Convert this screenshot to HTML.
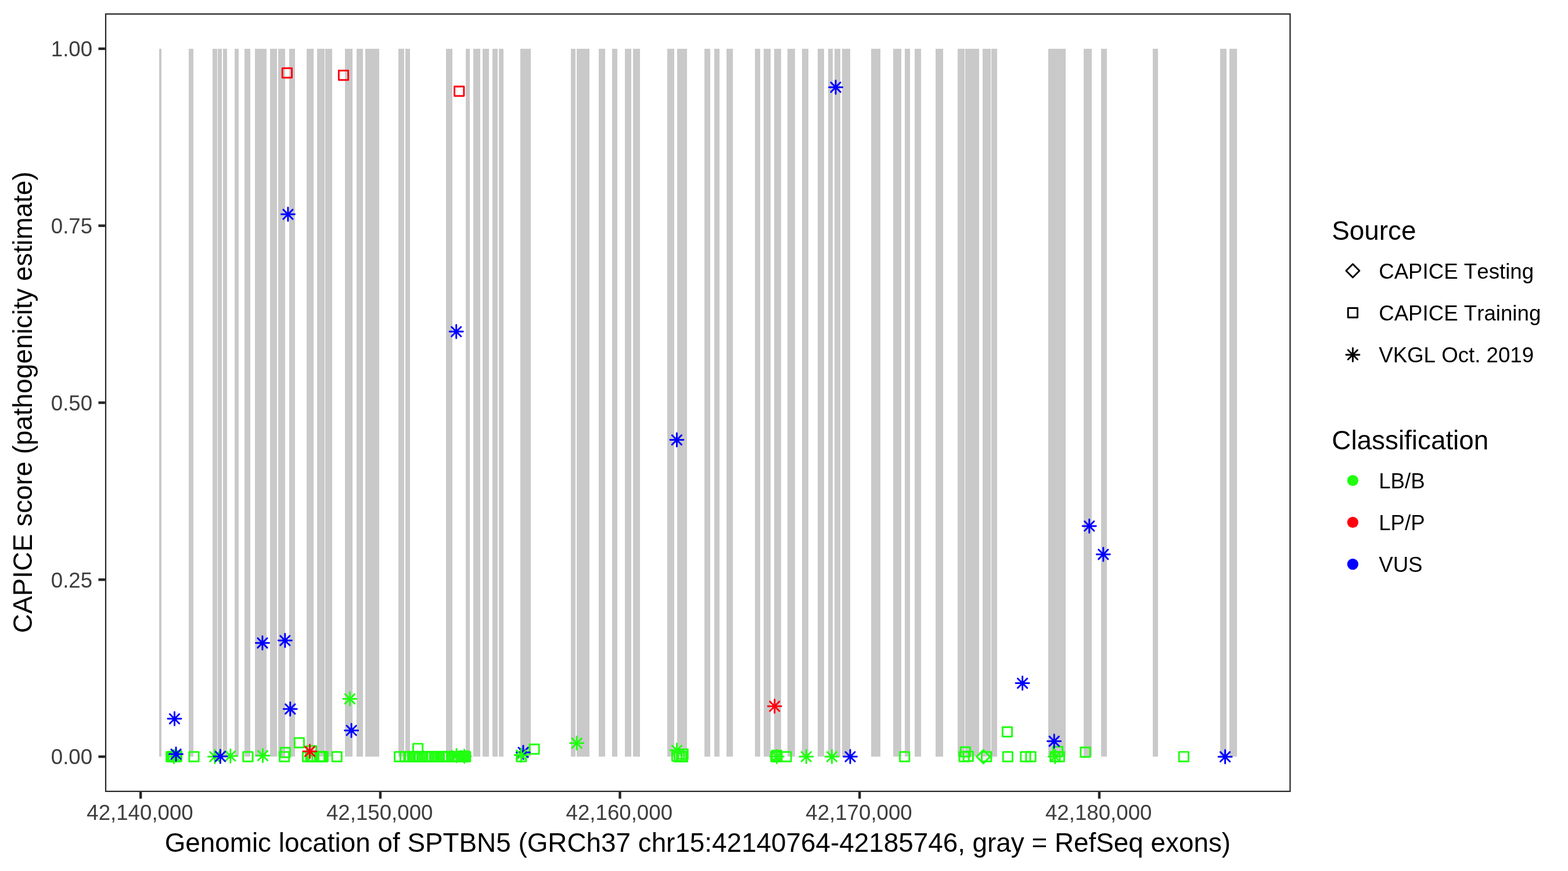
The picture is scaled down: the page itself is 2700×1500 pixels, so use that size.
<!DOCTYPE html>
<html lang="en">
<head>
<meta charset="utf-8">
<title>CAPICE score - SPTBN5</title>
<style>
html,body{margin:0;padding:0;background:#fff;}
body{width:2700px;height:1500px;overflow:hidden;}
svg{display:block;}
text{font-family:"Liberation Sans",sans-serif;font-kerning:none;}
.tick{font-size:36.67px;fill:#3E3E3E;}
.title{font-size:45.83px;fill:#000;}
.leg{font-size:36.67px;fill:#000;}
</style>
</head>
<body>
<svg width="2700" height="1500" viewBox="0 0 2700 1500">
<rect width="2700" height="1500" fill="#fff"/>
<g fill="#C9C9C9" shape-rendering="crispEdges">
<rect x="274" y="84" width="4" height="1219"/>
<rect x="325" y="84" width="8" height="1219"/>
<rect x="366" y="84" width="8" height="1219"/>
<rect x="375" y="84" width="7" height="1219"/>
<rect x="384" y="84" width="7" height="1219"/>
<rect x="404" y="84" width="7" height="1219"/>
<rect x="421" y="84" width="10" height="1219"/>
<rect x="439" y="84" width="20" height="1219"/>
<rect x="465" y="84" width="12" height="1219"/>
<rect x="479" y="84" width="12" height="1219"/>
<rect x="498" y="84" width="10" height="1219"/>
<rect x="528" y="84" width="12" height="1219"/>
<rect x="546" y="84" width="13" height="1219"/>
<rect x="560" y="84" width="12" height="1219"/>
<rect x="594" y="84" width="13" height="1219"/>
<rect x="614" y="84" width="11" height="1219"/>
<rect x="629" y="84" width="24" height="1219"/>
<rect x="686" y="84" width="10" height="1219"/>
<rect x="698" y="84" width="8" height="1219"/>
<rect x="768" y="84" width="11" height="1219"/>
<rect x="802" y="84" width="7" height="1219"/>
<rect x="815" y="84" width="12" height="1219"/>
<rect x="831" y="84" width="11" height="1219"/>
<rect x="848" y="84" width="9" height="1219"/>
<rect x="859" y="84" width="8" height="1219"/>
<rect x="896" y="84" width="18" height="1219"/>
<rect x="983" y="84" width="8" height="1219"/>
<rect x="993" y="84" width="22" height="1219"/>
<rect x="1031" y="84" width="11" height="1219"/>
<rect x="1054" y="84" width="9" height="1219"/>
<rect x="1076" y="84" width="11" height="1219"/>
<rect x="1090" y="84" width="12" height="1219"/>
<rect x="1149" y="84" width="12" height="1219"/>
<rect x="1166" y="84" width="17" height="1219"/>
<rect x="1213" y="84" width="10" height="1219"/>
<rect x="1230" y="84" width="9" height="1219"/>
<rect x="1251" y="84" width="11" height="1219"/>
<rect x="1300" y="84" width="9" height="1219"/>
<rect x="1315" y="84" width="12" height="1219"/>
<rect x="1333" y="84" width="12" height="1219"/>
<rect x="1356" y="84" width="13" height="1219"/>
<rect x="1381" y="84" width="11" height="1219"/>
<rect x="1408" y="84" width="11" height="1219"/>
<rect x="1426" y="84" width="8" height="1219"/>
<rect x="1437" y="84" width="10" height="1219"/>
<rect x="1450" y="84" width="14" height="1219"/>
<rect x="1500" y="84" width="16" height="1219"/>
<rect x="1538" y="84" width="14" height="1219"/>
<rect x="1558" y="84" width="9" height="1219"/>
<rect x="1575" y="84" width="11" height="1219"/>
<rect x="1611" y="84" width="13" height="1219"/>
<rect x="1649" y="84" width="12" height="1219"/>
<rect x="1662" y="84" width="24" height="1219"/>
<rect x="1692" y="84" width="14" height="1219"/>
<rect x="1707" y="84" width="10" height="1219"/>
<rect x="1805" y="84" width="30" height="1219"/>
<rect x="1866" y="84" width="14" height="1219"/>
<rect x="1896" y="84" width="10" height="1219"/>
<rect x="1985" y="84" width="9" height="1219"/>
<rect x="2101" y="84" width="11" height="1219"/>
<rect x="2117" y="84" width="13" height="1219"/>
</g>
<g fill="none" stroke-width="2.953" stroke-linecap="round" stroke-linejoin="round">
<rect x="286.56" y="1294.95" width="16.29" height="16.29" stroke="#20FF10"/>
<rect x="289.25" y="1294.95" width="16.29" height="16.29" stroke="#20FF10"/>
<rect x="290.86" y="1294.95" width="16.29" height="16.29" stroke="#20FF10"/>
<rect x="295.75" y="1294.95" width="16.29" height="16.29" stroke="#20FF10"/>
<rect x="296.25" y="1293.76" width="16.29" height="16.29" stroke="#20FF10"/>
<path d="M291.46 1294.86L307.75 1311.14M291.46 1311.14L307.75 1294.86M288.08 1303L311.12 1303M299.6 1291.48L299.6 1314.52" stroke="#20FF10"/>
<rect x="325.86" y="1294.95" width="16.29" height="16.29" stroke="#20FF10"/>
<path d="M361.66 1294.95L377.94 1311.24M361.66 1311.24L377.94 1294.95M358.28 1303.1L381.32 1303.1M369.8 1291.58L369.8 1314.62" stroke="#20FF10"/>
<path d="M388.66 1293.76L404.94 1310.05M388.66 1310.05L404.94 1293.76M385.28 1301.9L408.32 1301.9M396.8 1290.38L396.8 1313.42" stroke="#20FF10"/>
<rect x="418.75" y="1294.95" width="16.29" height="16.29" stroke="#20FF10"/>
<path d="M444.36 1293.15L460.64 1309.44M444.36 1309.44L460.64 1293.15M440.98 1301.3L464.02 1301.3M452.5 1289.78L452.5 1312.82" stroke="#20FF10"/>
<rect x="507.15" y="1271.06" width="16.29" height="16.29" stroke="#20FF10"/>
<rect x="483.06" y="1287.76" width="16.29" height="16.29" stroke="#20FF10"/>
<rect x="481.46" y="1295.01" width="16.29" height="16.29" stroke="#20FF10"/>
<rect x="528.36" y="1284.65" width="16.29" height="16.29" stroke="#20FF10"/>
<rect x="521.4" y="1295.01" width="16.29" height="16.29" stroke="#20FF10"/>
<rect x="526.96" y="1295.01" width="16.29" height="16.29" stroke="#20FF10"/>
<rect x="528.46" y="1295.01" width="16.29" height="16.29" stroke="#20FF10"/>
<rect x="529.46" y="1295.01" width="16.29" height="16.29" stroke="#20FF10"/>
<rect x="531.86" y="1295.01" width="16.29" height="16.29" stroke="#20FF10"/>
<rect x="542.25" y="1295.01" width="16.29" height="16.29" stroke="#20FF10"/>
<rect x="544.15" y="1295.01" width="16.29" height="16.29" stroke="#20FF10"/>
<rect x="545.65" y="1295.01" width="16.29" height="16.29" stroke="#20FF10"/>
<rect x="547.15" y="1295.01" width="16.29" height="16.29" stroke="#20FF10"/>
<rect x="548.15" y="1295.01" width="16.29" height="16.29" stroke="#20FF10"/>
<rect x="571.96" y="1295.01" width="16.29" height="16.29" stroke="#20FF10"/>
<path d="M594.36 1195.36L610.64 1211.64M594.36 1211.64L610.64 1195.36M590.98 1203.5L614.02 1203.5M602.5 1191.98L602.5 1215.02" stroke="#20FF10"/>
<rect x="711.46" y="1280.86" width="16.29" height="16.29" stroke="#20FF10"/>
<rect x="679.56" y="1295.01" width="16.29" height="16.29" stroke="#20FF10"/>
<rect x="689.38" y="1295.01" width="16.29" height="16.29" stroke="#20FF10"/>
<rect x="697.62" y="1295.01" width="16.29" height="16.29" stroke="#20FF10"/>
<rect x="702.52" y="1295.01" width="16.29" height="16.29" stroke="#20FF10"/>
<rect x="705.49" y="1295.01" width="16.29" height="16.29" stroke="#20FF10"/>
<rect x="708.62" y="1295.01" width="16.29" height="16.29" stroke="#20FF10"/>
<rect x="711.62" y="1295.01" width="16.29" height="16.29" stroke="#20FF10"/>
<rect x="714.48" y="1295.01" width="16.29" height="16.29" stroke="#20FF10"/>
<rect x="718.73" y="1295.01" width="16.29" height="16.29" stroke="#20FF10"/>
<rect x="724.77" y="1295.01" width="16.29" height="16.29" stroke="#20FF10"/>
<rect x="727.88" y="1295.01" width="16.29" height="16.29" stroke="#20FF10"/>
<rect x="733.73" y="1295.01" width="16.29" height="16.29" stroke="#20FF10"/>
<rect x="735.88" y="1295.01" width="16.29" height="16.29" stroke="#20FF10"/>
<rect x="740.12" y="1295.01" width="16.29" height="16.29" stroke="#20FF10"/>
<rect x="744.02" y="1295.01" width="16.29" height="16.29" stroke="#20FF10"/>
<rect x="747.12" y="1295.01" width="16.29" height="16.29" stroke="#20FF10"/>
<rect x="753.19" y="1295.01" width="16.29" height="16.29" stroke="#20FF10"/>
<rect x="755.12" y="1295.01" width="16.29" height="16.29" stroke="#20FF10"/>
<rect x="759.38" y="1295.01" width="16.29" height="16.29" stroke="#20FF10"/>
<rect x="763.27" y="1295.01" width="16.29" height="16.29" stroke="#20FF10"/>
<rect x="764.58" y="1295.01" width="16.29" height="16.29" stroke="#20FF10"/>
<rect x="774.38" y="1295.01" width="16.29" height="16.29" stroke="#20FF10"/>
<rect x="778.62" y="1295.01" width="16.29" height="16.29" stroke="#20FF10"/>
<rect x="780.99" y="1295.01" width="16.29" height="16.29" stroke="#20FF10"/>
<rect x="785.78" y="1295.01" width="16.29" height="16.29" stroke="#20FF10"/>
<rect x="789.11" y="1295.01" width="16.29" height="16.29" stroke="#20FF10"/>
<rect x="792.09" y="1295.01" width="16.29" height="16.29" stroke="#20FF10"/>
<rect x="793.46" y="1295.01" width="16.29" height="16.29" stroke="#20FF10"/>
<rect x="790.75" y="1293.86" width="16.29" height="16.29" stroke="#20FF10"/>
<path d="M777.96 1293.06L794.25 1309.35M777.96 1309.35L794.25 1293.06M774.58 1301.2L797.62 1301.2M786.1 1289.68L786.1 1312.72" stroke="#20FF10"/>
<path d="M791.36 1294.26L807.64 1310.55M791.36 1310.55L807.64 1294.26M787.98 1302.4L811.02 1302.4M799.5 1290.88L799.5 1313.92" stroke="#20FF10"/>
<rect x="889.75" y="1295.06" width="16.29" height="16.29" stroke="#20FF10"/>
<rect x="911.86" y="1281.95" width="16.29" height="16.29" stroke="#20FF10"/>
<path d="M892.82 1287.56L909.11 1303.85M892.82 1303.85L909.11 1287.56M889.44 1295.7L912.48 1295.7M900.96 1284.18L900.96 1307.22" stroke="#0000FF"/>
<path d="M889.36 1292.26L905.64 1308.55M889.36 1308.55L905.64 1292.26M885.98 1300.4L909.02 1300.4M897.5 1288.88L897.5 1311.92" stroke="#20FF10"/>
<path d="M985.06 1271.65L1001.35 1287.94M985.06 1287.94L1001.35 1271.65M981.68 1279.8L1004.72 1279.8M993.2 1268.28L993.2 1291.32" stroke="#20FF10"/>
<rect x="1157.45" y="1293.95" width="16.29" height="16.29" stroke="#20FF10"/>
<rect x="1161.51" y="1295.2" width="16.29" height="16.29" stroke="#20FF10"/>
<rect x="1165.31" y="1294.36" width="16.29" height="16.29" stroke="#20FF10"/>
<rect x="1167.26" y="1295.2" width="16.29" height="16.29" stroke="#20FF10"/>
<rect x="1167.95" y="1290.36" width="16.29" height="16.29" stroke="#20FF10"/>
<path d="M1157.36 1283.95L1173.64 1300.24M1157.36 1300.24L1173.64 1283.95M1153.98 1292.1L1177.02 1292.1M1165.5 1280.58L1165.5 1303.62" stroke="#20FF10"/>
<rect x="1327.76" y="1294.76" width="16.29" height="16.29" stroke="#20FF10"/>
<rect x="1329.31" y="1292.76" width="16.29" height="16.29" stroke="#20FF10"/>
<rect x="1329.56" y="1295.15" width="16.29" height="16.29" stroke="#20FF10"/>
<rect x="1345.9" y="1295.06" width="16.29" height="16.29" stroke="#20FF10"/>
<path d="M1329.56 1294.86L1345.85 1311.14M1329.56 1311.14L1345.85 1294.86M1326.18 1303L1349.22 1303M1337.7 1291.48L1337.7 1314.52" stroke="#20FF10"/>
<path d="M1380.15 1294.95L1396.44 1311.24M1380.15 1311.24L1396.44 1294.95M1376.78 1303.1L1399.82 1303.1M1388.3 1291.58L1388.3 1314.62" stroke="#20FF10"/>
<path d="M1424.36 1294.95L1440.64 1311.24M1424.36 1311.24L1440.64 1294.95M1420.98 1303.1L1444.02 1303.1M1432.5 1291.58L1432.5 1314.62" stroke="#20FF10"/>
<rect x="1549.56" y="1294.95" width="16.29" height="16.29" stroke="#20FF10"/>
<rect x="1654.15" y="1286.65" width="16.29" height="16.29" stroke="#20FF10"/>
<rect x="1651.95" y="1294.95" width="16.29" height="16.29" stroke="#20FF10"/>
<rect x="1659.15" y="1294.36" width="16.29" height="16.29" stroke="#20FF10"/>
<rect x="1690.56" y="1294.95" width="16.29" height="16.29" stroke="#20FF10"/>
<path d="M1681.78 1303.1L1693.3 1291.58L1704.82 1303.1L1693.3 1314.62Z" stroke="#20FF10"/>
<rect x="1726.36" y="1252.15" width="16.29" height="16.29" stroke="#20FF10"/>
<rect x="1727.15" y="1294.95" width="16.29" height="16.29" stroke="#20FF10"/>
<rect x="1757.76" y="1294.95" width="16.29" height="16.29" stroke="#20FF10"/>
<rect x="1766.86" y="1294.95" width="16.29" height="16.29" stroke="#20FF10"/>
<rect x="1813.36" y="1285.95" width="16.29" height="16.29" stroke="#20FF10"/>
<rect x="1808.76" y="1294.95" width="16.29" height="16.29" stroke="#20FF10"/>
<rect x="1816.15" y="1294.95" width="16.29" height="16.29" stroke="#20FF10"/>
<path d="M1808.65 1294.95L1824.94 1311.24M1808.65 1311.24L1824.94 1294.95M1805.28 1303.1L1828.32 1303.1M1816.8 1291.58L1816.8 1314.62" stroke="#20FF10"/>
<rect x="1860.86" y="1287.26" width="16.29" height="16.29" stroke="#20FF10"/>
<rect x="2030.15" y="1294.86" width="16.29" height="16.29" stroke="#20FF10"/>
<rect x="486.25" y="117.56" width="16.29" height="16.29" stroke="#FF000E"/>
<rect x="583.36" y="121.45" width="16.29" height="16.29" stroke="#FF000E"/>
<rect x="782.56" y="149.05" width="16.29" height="16.29" stroke="#FF000E"/>
<path d="M525.36 1285.86L541.64 1302.14M525.36 1302.14L541.64 1285.86M521.98 1294L545.02 1294M533.5 1282.48L533.5 1305.52" stroke="#FF000E"/>
<path d="M1325.7 1208.15L1341.99 1224.44M1325.7 1224.44L1341.99 1208.15M1322.33 1216.3L1345.37 1216.3M1333.85 1204.78L1333.85 1227.82" stroke="#FF000E"/>
<path d="M292.36 1229.7L308.64 1245.99M292.36 1245.99L308.64 1229.7M288.98 1237.85L312.02 1237.85M300.5 1226.33L300.5 1249.37" stroke="#0000FF"/>
<path d="M294.91 1290.65L311.19 1306.94M294.91 1306.94L311.19 1290.65M291.53 1298.8L314.57 1298.8M303.05 1287.28L303.05 1310.32" stroke="#0000FF"/>
<path d="M371.25 1294.56L387.54 1310.85M371.25 1310.85L387.54 1294.56M367.88 1302.7L390.92 1302.7M379.4 1291.18L379.4 1314.22" stroke="#0000FF"/>
<path d="M443.75 1099.06L460.04 1115.35M443.75 1115.35L460.04 1099.06M440.38 1107.2L463.42 1107.2M451.9 1095.68L451.9 1118.72" stroke="#0000FF"/>
<path d="M482.66 1094.95L498.94 1111.24M482.66 1111.24L498.94 1094.95M479.28 1103.1L502.32 1103.1M490.8 1091.58L490.8 1114.62" stroke="#0000FF"/>
<path d="M487.75 360.96L504.04 377.25M487.75 377.25L504.04 360.96M484.38 369.1L507.42 369.1M495.9 357.58L495.9 380.62" stroke="#0000FF"/>
<path d="M491.56 1212.86L507.84 1229.14M491.56 1229.14L507.84 1212.86M488.18 1221L511.22 1221M499.7 1209.48L499.7 1232.52" stroke="#0000FF"/>
<path d="M596.96 1249.76L613.25 1266.05M596.96 1266.05L613.25 1249.76M593.58 1257.9L616.62 1257.9M605.1 1246.38L605.1 1269.42" stroke="#0000FF"/>
<path d="M777.56 562.96L793.85 579.25M777.56 579.25L793.85 562.96M774.18 571.1L797.22 571.1M785.7 559.58L785.7 582.62" stroke="#0000FF"/>
<path d="M1157.26 749.46L1173.55 765.75M1157.26 765.75L1173.55 749.46M1153.88 757.6L1176.92 757.6M1165.4 746.08L1165.4 769.12" stroke="#0000FF"/>
<path d="M1430.86 142.05L1447.14 158.34M1430.86 158.34L1447.14 142.05M1427.48 150.2L1450.52 150.2M1439 138.68L1439 161.72" stroke="#0000FF"/>
<path d="M1455.86 1294.95L1472.14 1311.24M1455.86 1311.24L1472.14 1294.95M1452.48 1303.1L1475.52 1303.1M1464 1291.58L1464 1314.62" stroke="#0000FF"/>
<path d="M1752.45 1168.45L1768.74 1184.74M1752.45 1184.74L1768.74 1168.45M1749.08 1176.6L1772.12 1176.6M1760.6 1165.08L1760.6 1188.12" stroke="#0000FF"/>
<path d="M1807.06 1268.36L1823.35 1284.64M1807.06 1284.64L1823.35 1268.36M1803.68 1276.5L1826.72 1276.5M1815.2 1264.98L1815.2 1288.02" stroke="#0000FF"/>
<path d="M1867.56 897.75L1883.85 914.04M1867.56 914.04L1883.85 897.75M1864.18 905.9L1887.22 905.9M1875.7 894.38L1875.7 917.42" stroke="#0000FF"/>
<path d="M1891.65 946.56L1907.94 962.85M1891.65 962.85L1907.94 946.56M1888.28 954.7L1911.32 954.7M1899.8 943.18L1899.8 966.22" stroke="#0000FF"/>
<path d="M2101.45 1295.15L2117.74 1311.44M2101.45 1311.44L2117.74 1295.15M2098.08 1303.3L2121.12 1303.3M2109.6 1291.78L2109.6 1314.82" stroke="#0000FF"/>
</g>
<rect x="182" y="24.15" width="2039.5" height="1338.7" fill="none" stroke="#252525" stroke-width="2.2"/>
<g stroke="#252525" stroke-width="4.4">
<line x1="169.44" y1="83.9" x2="180.9" y2="83.9"/>
<line x1="169.44" y1="388.7" x2="180.9" y2="388.7"/>
<line x1="169.44" y1="693.5" x2="180.9" y2="693.5"/>
<line x1="169.44" y1="998.3" x2="180.9" y2="998.3"/>
<line x1="169.44" y1="1303.1" x2="180.9" y2="1303.1"/>
<line x1="242.2" y1="1363.95" x2="242.2" y2="1375.41"/>
<line x1="654.9" y1="1363.95" x2="654.9" y2="1375.41"/>
<line x1="1067.5" y1="1363.95" x2="1067.5" y2="1375.41"/>
<line x1="1480.2" y1="1363.95" x2="1480.2" y2="1375.41"/>
<line x1="1892.9" y1="1363.95" x2="1892.9" y2="1375.41"/>
</g>
<text class="tick" x="159.1" y="97.1" text-anchor="end">1.00</text>
<text class="tick" x="159.1" y="401.9" text-anchor="end">0.75</text>
<text class="tick" x="159.1" y="706.7" text-anchor="end">0.50</text>
<text class="tick" x="159.1" y="1011.5" text-anchor="end">0.25</text>
<text class="tick" x="159.1" y="1316.3" text-anchor="end">0.00</text>
<text class="tick" x="241" y="1412.1" text-anchor="middle">42,140,000</text>
<text class="tick" x="653.7" y="1412.1" text-anchor="middle">42,150,000</text>
<text class="tick" x="1066.3" y="1412.1" text-anchor="middle">42,160,000</text>
<text class="tick" x="1479" y="1412.1" text-anchor="middle">42,170,000</text>
<text class="tick" x="1891.7" y="1412.1" text-anchor="middle">42,180,000</text>
<text class="title" x="1201.4" y="1466.8" text-anchor="middle">Genomic location of SPTBN5 (GRCh37 chr15:42140764-42185746, gray = RefSeq exons)</text>
<text class="title" transform="translate(54.5 692.8) rotate(-90)" text-anchor="middle">CAPICE score (pathogenicity estimate)</text>
<text class="title" x="2293.3" y="413.0">Source</text>
<g fill="none" stroke="#000" stroke-width="2.953" stroke-linecap="round" stroke-linejoin="round">
<path d="M2317.88 466.3L2329.4 454.78L2340.92 466.3L2329.4 477.82Z" stroke="#000"/>
<rect x="2321.26" y="530.46" width="16.29" height="16.29" stroke="#000"/>
<path d="M2321.26 602.75L2337.55 619.04M2321.26 619.04L2337.55 602.75M2317.88 610.9L2340.92 610.9M2329.4 599.38L2329.4 622.42" stroke="#000"/>
</g>
<text class="leg" x="2374.2" y="479.5">CAPICE Testing</text>
<text class="leg" x="2374.2" y="551.8">CAPICE Training</text>
<text class="leg" x="2374.2" y="624.1">VKGL Oct. 2019</text>
<text class="title" x="2293.3" y="773.9">Classification</text>
<circle cx="2329.4" cy="827.5" r="9.62" fill="#20FF10"/>
<text class="leg" x="2374.2" y="840.7">LB/B</text>
<circle cx="2329.4" cy="899.5" r="9.62" fill="#FF000E"/>
<text class="leg" x="2374.2" y="912.7">LP/P</text>
<circle cx="2329.4" cy="971.6" r="9.62" fill="#0000FF"/>
<text class="leg" x="2374.2" y="984.8">VUS</text>
</svg>
</body>
</html>
